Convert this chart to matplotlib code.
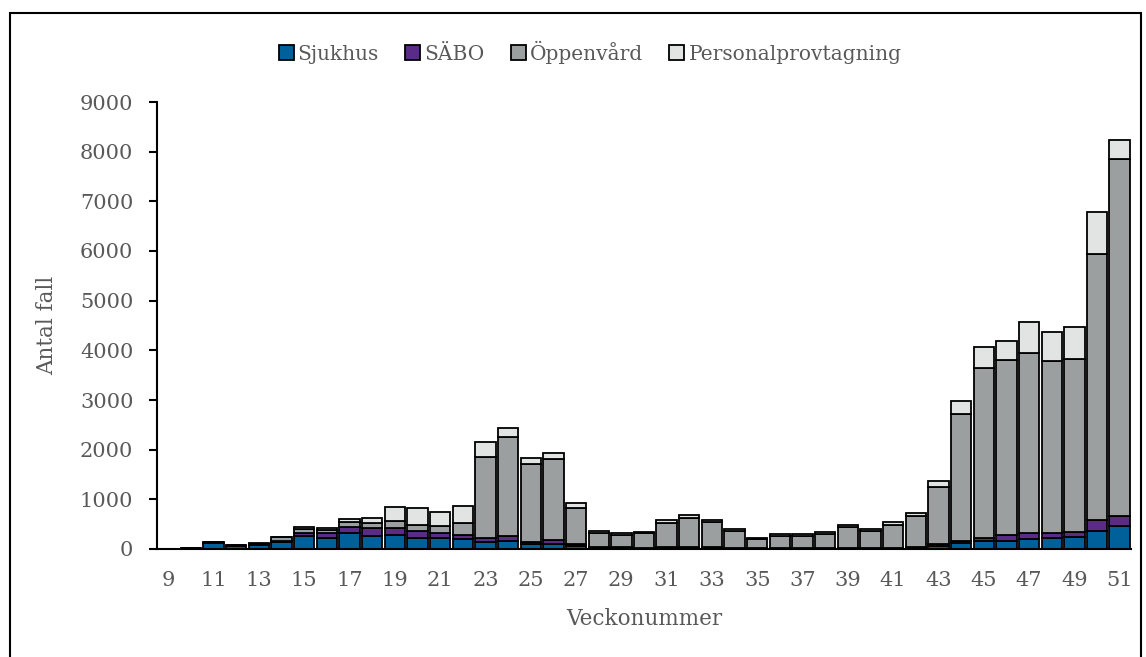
import numpy as np
import matplotlib
matplotlib.use('Agg')
import matplotlib.pyplot as plt
from matplotlib.patches import Rectangle

# veckor 9-51
weeks = list(range(9, 52))

sjukhus = [5, 12, 130, 60, 80, 140, 255, 228, 320, 270, 290, 230, 220, 195,
           135, 170, 95, 110, 70, 30, 25, 20, 25, 30, 25, 20, 15, 15, 15, 15,
           15, 15, 20, 30, 60, 120, 160, 170, 205, 225, 235, 370, 465]
sabo = [0, 3, 5, 5, 5, 30, 75, 92, 130, 150, 130, 125, 110, 95,
        85, 90, 55, 65, 40, 20, 10, 10, 10, 10, 10, 5, 5, 5, 5, 5,
        5, 5, 5, 10, 35, 50, 70, 110, 125, 90, 110, 220, 195]
oppenvard = [5, 12, 10, 20, 25, 70, 70, 60, 100, 110, 150, 135, 135, 230,
             1630, 2000, 1555, 1630, 720, 270, 255, 290, 495, 580, 505, 330, 175, 250, 250, 275,
             420, 345, 465, 620, 1150, 2550, 3420, 3520, 3625, 3470, 3490, 5340, 7200]
personal = [0, 3, 5, 5, 5, 5, 50, 40, 60, 100, 280, 340, 280, 350,
            300, 185, 120, 135, 90, 45, 30, 20, 60, 55, 50, 45, 35, 35, 35, 45,
            50, 40, 60, 60, 125, 265, 415, 385, 620, 575, 635, 860, 380]

series = [('Sjukhus', sjukhus, '#00609A'),
          ('SÄBO', sabo, '#5B2C86'),
          ('Öppenvård', oppenvard, '#9C9FA0'),
          ('Personalprovtagning', personal, '#E2E3E3')]

plt.rcParams['font.family'] = ['DejaVu Serif']
txt = '#595959'

W, H = 1146, 657
fig = plt.figure(figsize=(W / 100, H / 100), dpi=100)
ax = fig.add_axes([157 / W, 1 - 549 / H, (1131 - 157) / W, (549 - 102) / H])

bottom = np.zeros(len(weeks))
for name, vals, col in series:
    ax.bar(weeks, vals, width=0.9, bottom=bottom, color=col,
           edgecolor='black', linewidth=1.3, label=name)
    bottom += np.array(vals)

ax.set_xlim(8.5, 51.5)
ax.set_ylim(0, 9000)
ax.set_yticks(range(0, 9001, 1000))
ax.set_xticks(weeks[::2])

for s in ['top', 'right']:
    ax.spines[s].set_visible(False)
for s in ['left', 'bottom']:
    ax.spines[s].set_linewidth(1.5)
    ax.spines[s].set_color('black')

ax.tick_params(axis='y', direction='out', length=6, width=1.5, pad=11,
               labelsize=15, labelcolor=txt)
ax.tick_params(axis='x', length=0, pad=16, labelsize=15, labelcolor=txt)

ax.set_ylabel('Antal fall', fontsize=15.5, color=txt)
ax.yaxis.set_label_coords((58 - 157) / (1131 - 157), 0.5)
ax.set_xlabel('Veckonummer', fontsize=15.5, color=txt, labelpad=13)

leg = fig.legend(loc='center', bbox_to_anchor=(590 / W, 1 - 52 / H), ncol=4,
                 frameon=False, fontsize=14.5, handlelength=0.75,
                 handleheight=0.75, handletextpad=0.2, columnspacing=1.3)
for t in leg.get_texts():
    t.set_color(txt)

# ram runt hela diagrammet
fig.patches.append(Rectangle((10 / W, -0.05), (1141 - 10) / W, 1.05 - 13 / H,
                             transform=fig.transFigure, fill=False,
                             edgecolor='black', linewidth=1.5))

fig.savefig('out.png', dpi=100)
